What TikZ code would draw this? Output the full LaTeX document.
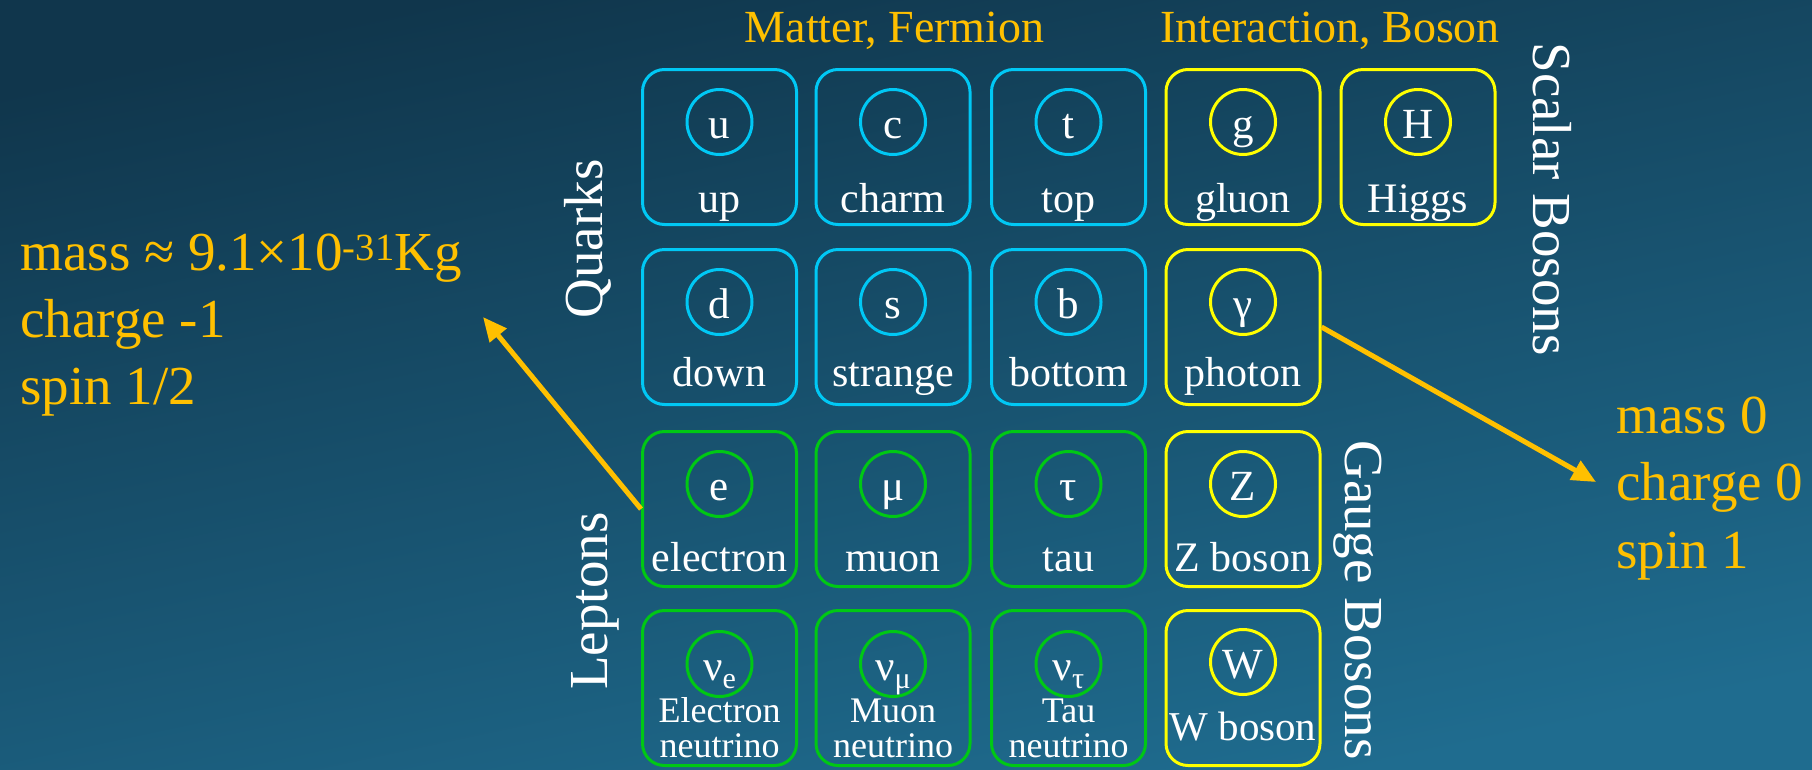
\documentclass[tikz,border=0pt]{standalone}
\usepackage{fontspec}
\setmainfont{Liberation Serif}
\usetikzlibrary{arrows.meta,calc}
\definecolor{bgtop}{RGB}{16,54,76}
\definecolor{bgbot}{RGB}{31,108,143}
\definecolor{qcol}{RGB}{0,200,245}
\definecolor{lcol}{RGB}{0,200,20}
\definecolor{bcol}{RGB}{255,255,0}
\definecolor{ocol}{RGB}{255,192,0}
\newcommand{\fs}[1]{\fontsize{#1}{#1}\selectfont}
\begin{document}
\begin{tikzpicture}[x=1pt,y=-1pt,
  cell/.style={draw=#1, line width=3pt, rounded corners=22pt, minimum width=154pt, minimum height=155pt, inner sep=0pt},
  ring/.style={draw=#1, line width=3pt, circle, minimum size=65pt, inner sep=0pt},
  sym/.style={anchor=base, text=white, font=\fs{43}},
  lbl/.style={anchor=base, text=white, font=\fs{42}},
  lbltwo/.style={anchor=base, text=white, font=\fs{36}},
  grp/.style={anchor=base, text=white, font=\fs{55}},
  ttl/.style={anchor=base, text=ocol, font=\fs{46}},
  info/.style={anchor=base west, text=ocol, font=\fs{55}},
  callout/.style={draw=ocol, line width=5pt, -{Triangle[length=24pt,width=21pt]}}]
\shade[top color=bgtop, bottom color=bgbot, shading angle=12] (0,0) rectangle (1812,769);
\useasboundingbox (0,0) rectangle (1812,769);

% titles
\node[ttl] (matter) at (894.5,42) {Matter, Fermion};
\node[ttl] (inter) at (1330,42) {Interaction, Boson};

% row 1
\foreach \n/\x/\c/\s/\l in {u/719.5/qcol/u/up, c/893/qcol/c/charm, t/1068.5/qcol/t/top, g/1243/bcol/g/gluon, H/1418/bcol/H/Higgs}{
  \node[cell=\c] (\n) at (\x,147) {};
  \node[ring=\c] (\n-c) at (\x,122) {};
  \node[sym] (\n-s) at ([yshift=-16pt]\n-c.center) {\s};
  \node[lbl] (\n-l) at (\x,212) {\l};
}
% row 2
\foreach \n/\x/\c/\s/\l in {d/719.5/qcol/d/down, s/893/qcol/s/strange, b/1068.5/qcol/b/bottom, gam/1243/bcol/γ/photon}{
  \node[cell=\c] (\n) at (\x,327) {};
  \node[ring=\c] (\n-c) at (\x,302) {};
  \node[sym] (\n-s) at ([yshift=-16pt]\n-c.center) {\s};
  \node[lbl] (\n-l) at (\x,386) {\l};
}
% row 3
\foreach \n/\x/\c/\s/\l in {e/719.5/lcol/e/electron, mu/893/lcol/μ/muon, tau/1068.5/lcol/τ/tau, Z/1243/bcol/Z/Z boson}{
  \node[cell=\c] (\n) at (\x,509) {};
  \node[ring=\c] (\n-c) at (\x,484) {};
  \node[sym] (\n-s) at ([yshift=-16pt]\n-c.center) {\s};
  \node[lbl] (\n-l) at (\x,571) {\l};
}
% row 4
\foreach \n/\x/\sub/\la in {ne/719.5/e/Electron, nm/893/μ/Muon, nt/1068.5/τ/Tau}{
  \node[cell=lcol] (\n) at (\x,688) {};
  \node[ring=lcol] (\n-c) at (\x,664) {};
  \node[sym] (\n-s) at ([yshift=-16pt]\n-c.center) {ν\raisebox{-8pt}{\fs{30}\sub}};
  \node[lbltwo] (\n-la) at (\x,722) {\la};
  \node[lbltwo] (\n-lb) at (\x,757) {neutrino};
}
\node[cell=bcol] (W) at (1243,688) {};
\node[ring=bcol] (W-c) at (1243,662) {};
\node[sym] (W-s) at ([yshift=-16pt]W-c.center) {W};
\node[lbl, font=\fs{41}] (W-l) at (1243,740) {W boson};

% group labels
\node[grp, rotate=90] (quarks) at (602,239) {Quarks};
\node[grp, rotate=90] (leptons) at (607,601) {Leptons};
\node[grp, rotate=-90] (scalar) at (1533,199) {Scalar Bosons};
\node[grp, rotate=-90] (gauge) at (1345,600) {Gauge Bosons};

% properties
\node[info] (emass) at (17,270) {mass ≈ 9.1×10\textsuperscript{-31}Kg};
\node[info] (echarge) at (17,337) {charge -1};
\node[info] (espin) at (17,404) {spin 1/2};
\node[info] (gmass) at (1613,433) {mass 0};
\node[info] (gcharge) at (1613,500) {charge 0};
\node[info] (gspin) at (1613,568) {spin 1};

\coordinate (etip) at (483,317);
\coordinate (gtip) at (1596,482);
\draw[callout] (e.west) -- (etip);
\draw[callout] (gam.east) -- (gtip);
\end{tikzpicture}
\end{document}
